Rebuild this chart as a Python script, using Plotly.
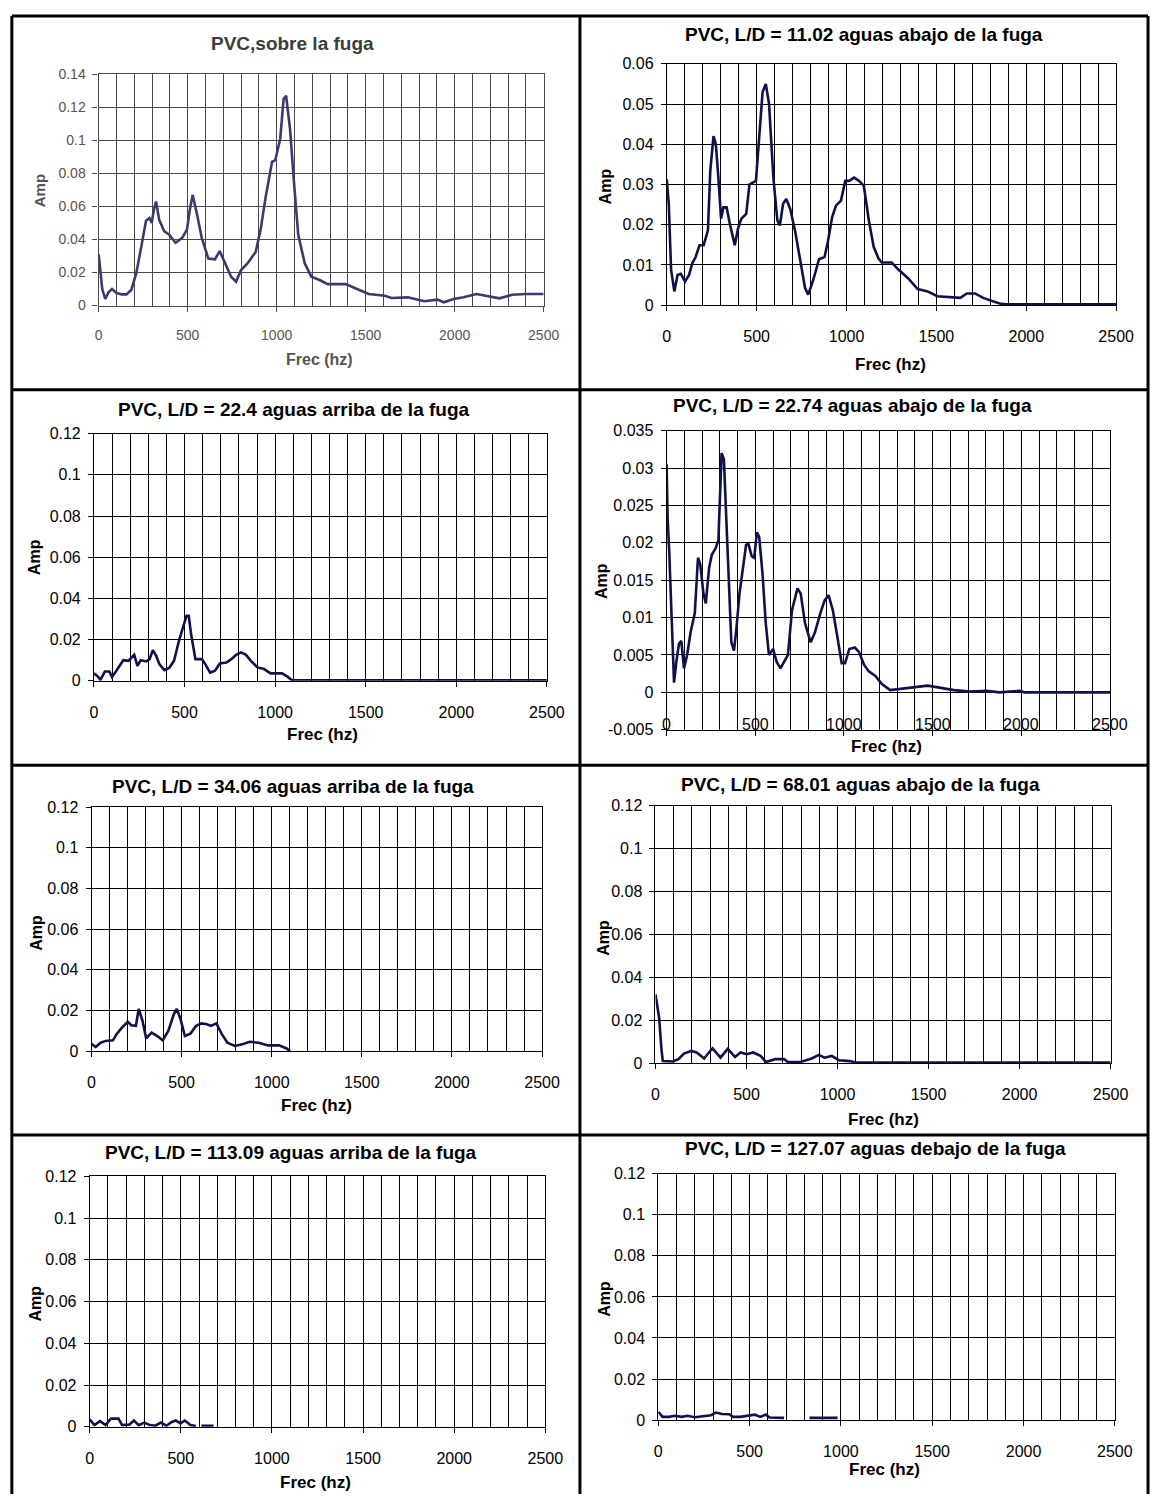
import plotly.graph_objects as go

W, H = 1168, 1503

# ---------------- data ----------------
freq_ticks = [0, 500, 1000, 1500, 2000, 2500]
freq_tick_labels = ["0", "500", "1000", "1500", "2000", "2500"]

amp_ticks_014 = [0, 0.02, 0.04, 0.06, 0.08, 0.10, 0.12, 0.14]
amp_labels_014 = ["0", "0.02", "0.04", "0.06", "0.08", "0.1", "0.12", "0.14"]

amp_ticks_006 = [0, 0.01, 0.02, 0.03, 0.04, 0.05, 0.06]
amp_labels_006 = ["0", "0.01", "0.02", "0.03", "0.04", "0.05", "0.06"]

amp_ticks_012 = [0, 0.02, 0.04, 0.06, 0.08, 0.10, 0.12]
amp_labels_012 = ["0", "0.02", "0.04", "0.06", "0.08", "0.1", "0.12"]

amp_ticks_0035 = [-0.005, 0, 0.005, 0.01, 0.015, 0.02, 0.025, 0.03, 0.035]
amp_labels_0035 = ["-0.005", "0", "0.005", "0.01", "0.015", "0.02", "0.025", "0.03", "0.035"]

titles = [
    "PVC,sobre la fuga",
    "PVC, L/D = 11.02 aguas abajo de la fuga",
    "PVC, L/D = 22.4 aguas arriba de la fuga",
    "PVC, L/D = 22.74 aguas abajo de la fuga",
    "PVC, L/D = 34.06 aguas arriba de la fuga",
    "PVC, L/D = 68.01 aguas abajo de la fuga",
    "PVC, L/D = 113.09 aguas arriba de la fuga",
    "PVC, L/D = 127.07 aguas debajo de la fuga",
]

# spectra: (frequency Hz, amplitude)
sobre_fuga = [(0, 0.031), (8, 0.021), (20, 0.010), (37, 0.004), (55, 0.008), (75, 0.010),
              (100, 0.0076), (130, 0.0068), (156, 0.0068), (184, 0.0096), (211, 0.0195),
              (239, 0.0355), (266, 0.0514), (285, 0.053), (298, 0.050), (310, 0.058),
              (322, 0.063), (340, 0.052), (368, 0.045), (395, 0.043), (432, 0.038),
              (469, 0.041), (496, 0.046), (512, 0.058), (528, 0.067), (551, 0.056),
              (579, 0.041), (616, 0.0285), (653, 0.028), (680, 0.033), (708, 0.0265),
              (744, 0.0175), (772, 0.0145), (800, 0.0215), (836, 0.0255), (882, 0.0325),
              (910, 0.046), (937, 0.065), (974, 0.087), (992, 0.088), (1020, 0.101),
              (1039, 0.125), (1053, 0.127), (1075, 0.107), (1097, 0.075), (1121, 0.043),
              (1158, 0.0255), (1195, 0.0175), (1241, 0.0155), (1287, 0.013), (1340, 0.013),
              (1388, 0.013), (1461, 0.0096), (1517, 0.007), (1608, 0.006), (1645, 0.0046),
              (1737, 0.005), (1829, 0.0026), (1903, 0.0036), (1939, 0.002), (1994, 0.004),
              (2050, 0.005), (2123, 0.007), (2197, 0.0056), (2252, 0.0044), (2325, 0.0066),
              (2399, 0.007), (2500, 0.007)]

abajo_11_02 = [(0, 0.0313), (11, 0.0252), (24, 0.0088), (42, 0.0034), (60, 0.0075), (78, 0.0078),
               (102, 0.0059), (124, 0.0075), (142, 0.0104), (160, 0.0119), (182, 0.0149),
               (205, 0.0149), (229, 0.0186), (242, 0.0334), (260, 0.042), (273, 0.040),
               (287, 0.0317), (302, 0.0215), (315, 0.0243), (333, 0.0243), (351, 0.0202),
               (378, 0.0149), (396, 0.019), (415, 0.0215), (442, 0.0227), (460, 0.030),
               (496, 0.0309), (515, 0.0424), (533, 0.053), (551, 0.055), (569, 0.050),
               (593, 0.0317), (615, 0.0211), (629, 0.0198), (647, 0.0252), (665, 0.0264),
               (687, 0.0239), (715, 0.0182), (742, 0.0112), (769, 0.0043), (787, 0.0026),
               (815, 0.0063), (847, 0.0114), (878, 0.012), (896, 0.0157), (920, 0.0219),
               (942, 0.0248), (969, 0.026), (993, 0.0309), (1015, 0.0309), (1042, 0.0317),
               (1069, 0.0309), (1096, 0.0297), (1124, 0.0211), (1151, 0.0145), (1178, 0.0116),
               (1196, 0.0106), (1251, 0.0106), (1287, 0.0089), (1342, 0.0067), (1396, 0.004),
               (1451, 0.0034), (1505, 0.0022), (1596, 0.0018), (1633, 0.0018), (1669, 0.0029),
               (1715, 0.0029), (1760, 0.0018), (1815, 0.001), (1851, 0.0004), (1887, 0.0002),
               (2500, 0.0002)]

arriba_22_4 = [(0, 0.0036), (18, 0.0024), (36, 0.0005), (60, 0.0045), (85, 0.0045), (99, 0.0019),
               (117, 0.004), (139, 0.0068), (162, 0.010), (190, 0.0097), (208, 0.0113),
               (222, 0.0126), (240, 0.0073), (258, 0.010), (289, 0.0094), (307, 0.0105),
               (325, 0.0149), (343, 0.0122), (361, 0.0081), (388, 0.0052), (415, 0.0062),
               (442, 0.0097), (469, 0.0194), (493, 0.0259), (511, 0.0316), (523, 0.0316),
               (536, 0.0227), (560, 0.0105), (596, 0.0105), (614, 0.0081), (641, 0.004),
               (668, 0.0049), (695, 0.0084), (731, 0.0089), (758, 0.0105), (785, 0.0126),
               (812, 0.0138), (839, 0.0126), (866, 0.0097), (903, 0.0065), (939, 0.0057),
               (975, 0.0036), (1038, 0.0036), (1070, 0.0019), (1092, 0.0003), (2500, 0.0003)]

abajo_22_74 = [(0, 0.0305), (6, 0.0232), (15, 0.0188), (24, 0.0128), (33, 0.0067), (42, 0.0013),
               (55, 0.0041), (70, 0.0065), (83, 0.0069), (98, 0.0032), (116, 0.005), (135, 0.008),
               (159, 0.0106), (177, 0.018), (190, 0.0171), (208, 0.0132), (221, 0.0119),
               (240, 0.0167), (255, 0.0184), (277, 0.0193), (292, 0.0203), (301, 0.0275),
               (310, 0.032), (323, 0.0312), (338, 0.0223), (351, 0.0145), (365, 0.0067),
               (380, 0.0056), (393, 0.0084), (411, 0.0132), (430, 0.0167), (448, 0.0197),
               (461, 0.0199), (480, 0.0182), (494, 0.018), (509, 0.0214), (522, 0.0208),
               (541, 0.0158), (559, 0.0093), (577, 0.005), (601, 0.0058), (620, 0.0041),
               (642, 0.0032), (664, 0.0041), (684, 0.005), (707, 0.011), (738, 0.0139),
               (756, 0.0132), (780, 0.0093), (812, 0.0067), (836, 0.008), (867, 0.0106),
               (891, 0.0123), (913, 0.013), (937, 0.011), (965, 0.0071), (987, 0.0039),
               (1006, 0.0039), (1030, 0.0058), (1061, 0.006), (1085, 0.0054), (1113, 0.0037),
               (1140, 0.0028), (1177, 0.0022), (1214, 0.0011), (1260, 0.0003), (1380, 0.0006),
               (1472, 0.0009), (1546, 0.0006), (1620, 0.0003), (1712, 0.0001), (1804, 0.0002),
               (1878, 0.0), (1989, 0.0002), (2017, 0.0), (2500, 0.0)]

arriba_34_06 = [(0, 0.0036), (23, 0.002), (51, 0.0041), (78, 0.005), (119, 0.0053), (139, 0.0083),
                (170, 0.0116), (201, 0.0144), (221, 0.0127), (246, 0.0124), (262, 0.0207),
                (283, 0.0149), (303, 0.0063), (334, 0.0091), (365, 0.0074), (395, 0.0053),
                (426, 0.0099), (457, 0.0182), (473, 0.0207), (494, 0.0157), (518, 0.0074),
                (549, 0.0086), (580, 0.0124), (611, 0.0136), (641, 0.0132), (662, 0.0124),
                (693, 0.0136), (723, 0.0083), (754, 0.0041), (795, 0.0025), (836, 0.0033),
                (877, 0.0046), (928, 0.0041), (980, 0.0028), (1041, 0.0028), (1082, 0.0013),
                (1102, 0.0)]

abajo_68_01 = [(0, 0.032), (10, 0.0259), (20, 0.0212), (32, 0.0073), (40, 0.001), (96, 0.0008),
               (126, 0.0019), (156, 0.0045), (196, 0.0057), (226, 0.005), (267, 0.0022),
               (313, 0.007), (357, 0.0026), (397, 0.0067), (437, 0.0029), (467, 0.005),
               (501, 0.0042), (537, 0.005), (577, 0.0034), (607, 0.0006), (657, 0.0019),
               (707, 0.0019), (727, 0.0006), (798, 0.0006), (858, 0.0022), (898, 0.0039),
               (928, 0.0026), (968, 0.0034), (1008, 0.0014), (1068, 0.001), (1098, 0.0003),
               (2500, 0.0003)]

arriba_113_09 = [(0, 0.0036), (26, 0.0008), (57, 0.0027), (87, 0.0008), (117, 0.0039), (158, 0.0039),
                 (178, 0.0008), (219, 0.0011), (243, 0.003), (269, 0.0008), (300, 0.002),
                 (330, 0.0008), (360, 0.0005), (391, 0.002), (421, 0.0005), (451, 0.0023),
                 (472, 0.003), (498, 0.0016), (522, 0.003), (553, 0.0008), (583, 0.0003),
                 (598, None), (613, 0.0005), (680, 0.0005)]

debajo_127_07 = [(0, 0.004), (24, 0.0016), (60, 0.0016), (90, 0.0021), (130, 0.0016), (160, 0.0021),
                 (200, 0.0014), (250, 0.0019), (289, 0.0024), (315, 0.0037), (349, 0.003),
                 (389, 0.0029), (409, 0.0016), (449, 0.0016), (499, 0.0021), (529, 0.0027),
                 (559, 0.0016), (589, 0.0027), (609, 0.0013), (639, 0.0011), (689, 0.0011),
                 (760, None), (828, 0.0011), (982, 0.0011)]

# ---------------- layout of the panels (pixel boxes) ----------------
NARROW = "Liberation Sans Narrow, Arial Narrow, Liberation Sans, Arial, sans-serif"
WIDE = "Liberation Sans, Arial, sans-serif"

panels = [
    dict(series=sobre_fuga, box=(96.5, 550, 67, 301), yr=[0, 0.14],
         yt=(amp_ticks_014, amp_labels_014), title_xy=(294, 36), amp_xy=(37, 185),
         frec_xy=(322, 356), old=True),
    dict(series=abajo_11_02, box=(675.5, 1133.5, 56.5, 300.5), yr=[0, 0.06],
         yt=(amp_ticks_006, amp_labels_006), title_xy=(877, 27), amp_xy=(614, 180),
         frec_xy=(904, 361)),
    dict(series=arriba_22_4, box=(91.7, 553.3, 430.5, 680.5), yr=[0, 0.12],
         yt=(amp_ticks_012, amp_labels_012), title_xy=(296, 406), amp_xy=(31, 555),
         frec_xy=(325, 735)),
    dict(series=abajo_22_74, box=(675.3, 1127.3, 427.5, 730), yr=[-0.005, 0.035],
         yt=(amp_ticks_0035, amp_labels_0035), title_xy=(865, 402), amp_xy=(609, 580),
         frec_xy=(899, 747), inner_x_labels=True),
    dict(series=arriba_34_06, box=(89.2, 548.4, 808.3, 1055), yr=[0, 0.12],
         yt=(amp_ticks_012, amp_labels_012), title_xy=(295, 787), amp_xy=(33, 935),
         frec_xy=(318, 1110)),
    dict(series=abajo_68_01, box=(664, 1127.8, 806.7, 1067.3), yr=[0, 0.12],
         yt=(amp_ticks_012, amp_labels_012), title_xy=(873, 785), amp_xy=(611, 940),
         frec_xy=(896, 1124)),
    dict(series=arriba_113_09, box=(87.3, 551.7, 1181.7, 1435), yr=[0, 0.12],
         yt=(amp_ticks_012, amp_labels_012), title_xy=(293, 1158), amp_xy=(32, 1310),
         frec_xy=(317, 1491)),
    dict(series=debajo_127_07, box=(666.8, 1132.2, 1179, 1428.3), yr=[0, 0.12],
         yt=(amp_ticks_012, amp_labels_012), title_xy=(888, 1154), amp_xy=(612, 1305),
         frec_xy=(897, 1478)),
]


def px(x):
    return x / W


def py(y):
    return 1 - y / H


fig = go.Figure()
annotations = []
layout_axes = {}

for i, p in enumerate(panels, start=1):
    old = p.get("old", False)
    sfx = "" if i == 1 else str(i)
    xs = [f for f, a in p["series"]]
    ys = [a for f, a in p["series"]]
    fig.add_trace(go.Scatter(
        x=xs, y=ys, mode="lines", xaxis="x" + sfx, yaxis="y" + sfx,
        line=dict(color="#3a3a70" if old else "#10104c", width=2.6),
        connectgaps=False, showlegend=False, hoverinfo="skip",
    ))

    l, r, t, b = p["box"]
    grid_col = "#4a4a4a" if old else "black"
    txt_col = "#555555" if old else "black"
    fam = WIDE if old else NARROW
    tick_size = 14 if old else 16

    layout_axes["xaxis" + sfx] = dict(
        domain=[px(l), px(r)], range=[0, 2500], anchor="y" + sfx,
        tickmode="array", tickvals=freq_ticks, ticktext=freq_tick_labels,
        showticklabels=not p.get("inner_x_labels", False),
        ticks="outside", ticklen=5, tickcolor=grid_col, tickwidth=1,
        ticklabelstandoff=11 if old else 12,
        tickfont=dict(family=fam, size=tick_size, color=txt_col),
        showgrid=True, gridcolor=grid_col, gridwidth=1.4 if old else 1,
        minor=dict(tickmode="linear", tick0=0, dtick=100, showgrid=True,
                   gridcolor=grid_col, gridwidth=1.4 if old else 1, ticks=""),
        showline=True, linecolor=grid_col, linewidth=1.4 if old else 1, mirror=True,
        zeroline=False, fixedrange=True,
    )
    layout_axes["yaxis" + sfx] = dict(
        domain=[py(b), py(t)], range=p["yr"], anchor="x" + sfx,
        tickmode="array", tickvals=p["yt"][0], ticktext=p["yt"][1],
        ticks="outside", ticklen=5, tickcolor=grid_col, tickwidth=1,
        ticklabelstandoff=4,
        tickfont=dict(family=fam, size=tick_size, color=txt_col),
        showgrid=True, gridcolor=grid_col, gridwidth=1.4 if old else 1,
        showline=True, linecolor=grid_col, linewidth=1.4 if old else 1, mirror=True,
        zeroline=False, fixedrange=True,
    )

    # frequency labels drawn along the bottom edge inside the plot
    if p.get("inner_x_labels", False):
        for v, lab in zip(freq_ticks, freq_tick_labels):
            annotations.append(dict(
                x=v, y=p["yr"][0], xref="x" + sfx, yref="y" + sfx, text=lab,
                showarrow=False, xanchor="center", yanchor="middle", yshift=5,
                font=dict(family=fam, size=tick_size, color=txt_col),
            ))

    tx, ty = p["title_xy"]
    annotations.append(dict(
        x=px(tx), y=py(ty), xref="paper", yref="paper", text="<b>%s</b>" % titles[i - 1],
        showarrow=False, xanchor="center", yanchor="middle",
        font=dict(family=fam, size=19, color="#3c3c3c" if old else "black"),
    ))
    ax, ay = p["amp_xy"]
    annotations.append(dict(
        x=px(ax), y=py(ay), xref="paper", yref="paper", text="<b>Amp</b>",
        showarrow=False, xanchor="center", yanchor="middle", textangle=-90,
        font=dict(family=fam, size=15 if old else 16, color=txt_col),
    ))
    fx, fy = p["frec_xy"]
    annotations.append(dict(
        x=px(fx), y=py(fy), xref="paper", yref="paper",
        text="<b>Frec (hz)</b>",
        showarrow=False, xanchor="center", yanchor="middle",
        font=dict(family=fam, size=16 if old else 17, color=txt_col),
    ))

# table frame around the eight panels
frame_lines = [
    (8, 8, 1166, 8),          # top
    (8, 8, 8, 1503),          # left
    (1166, 8, 1166, 1503),    # right
    (587, 8, 587, 1503),      # middle
    (8, 386, 1166, 386),
    (8, 766, 1166, 766),
    (8, 1140, 1166, 1140),
]
shapes = [dict(type="line", xref="paper", yref="paper",
               x0=px(x0), y0=py(y0), x1=px(x1), y1=py(y1),
               line=dict(color="black", width=3), layer="above")
          for x0, y0, x1, y1 in frame_lines]

fig.update_layout(
    width=W, height=H, autosize=False,
    margin=dict(l=0, r=0, t=0, b=0, pad=0),
    paper_bgcolor="white", plot_bgcolor="white",
    annotations=annotations, shapes=shapes,
    hovermode=False,
    **layout_axes,
)

fig.write_html("out.html")
